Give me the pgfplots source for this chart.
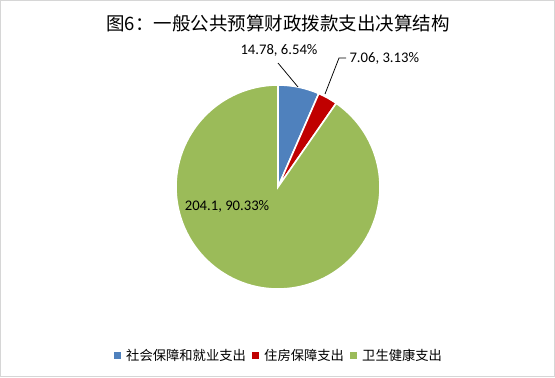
\documentclass[border=0pt]{standalone}
\usepackage{pgfplots}
\pgfplotsset{compat=1.18}
\usepackage{pgfplotstable}
\usepackage{fontspec}
\setmainfont{Carlito}
\newfontfamily\cjk{Noto Sans CJK SC}
\definecolor{cA}{HTML}{4F81BD}
\definecolor{cB}{HTML}{C00000}
\definecolor{cC}{HTML}{9BBB59}
\pgfplotstableread{
name value pct
A 14.78 6.54
B 7.06 3.13
C 204.1 90.33
}\piedata
\pgfplotstablegetelem{0}{value}\of\piedata \let\va\pgfplotsretval
\pgfplotstablegetelem{1}{value}\of\piedata \let\vb\pgfplotsretval
\pgfplotstablegetelem{2}{value}\of\piedata \let\vc\pgfplotsretval
\pgfmathsetmacro\tot{\va+\vb+\vc}
\pgfmathsetmacro\aA{90}
\pgfmathsetmacro\aB{90-360*\va/\tot}
\pgfmathsetmacro\aC{\aB-360*\vb/\tot}
\pgfmathsetmacro\aD{-270}
\begin{document}
\begin{tikzpicture}
\begin{axis}[
  x=1bp, y=1bp, xmin=0, xmax=555, ymin=0, ymax=377,
  hide axis, clip=false, disabledatascaling,
  scale only axis,
]
\addplot[draw=none] coordinates {(0,0) (555,377)};
\draw[color=black!16, line width=1bp] (axis cs:0.5,0.5) rectangle (axis cs:554.5,376.5);
% title
\node[font=\cjk\fontsize{18.5bp}{22bp}\selectfont] at (axis cs:278,354) {图6：一般公共预算财政拨款支出决算结构};
% pie
\fill[cA, draw=white, line width=1.6bp] (axis cs:278,190) -- ++(\aA:102bp) arc[start angle=\aA, end angle=\aB, radius=102bp] -- cycle;
\fill[cB, draw=white, line width=1.6bp] (axis cs:278,190) -- ++(\aB:102bp) arc[start angle=\aB, end angle=\aC, radius=102bp] -- cycle;
\fill[cC, draw=white, line width=1.6bp] (axis cs:278,190) -- ++(\aC:102bp) arc[start angle=\aC, end angle=\aD, radius=102bp] -- cycle;
% labels
\draw[black, line width=0.75bp] (axis cs:278,314) -- (axis cs:298,290);
\node[font=\fontsize{14.67bp}{17bp}\selectfont] at (axis cs:279,327) {14.78, 6.54\%};
\draw[black, line width=0.75bp] (axis cs:325,283) -- (axis cs:339,319) -- (axis cs:346,319);
\node[font=\fontsize{14.67bp}{17bp}\selectfont, anchor=west] at (axis cs:346,319) {7.06, 3.13\%};
\node[font=\fontsize{14.67bp}{17bp}\selectfont] at (axis cs:227,171) {204.1, 90.33\%};
% legend
\fill[cA] (axis cs:114,18.5) rectangle (axis cs:121,25.5);
\node[font=\cjk\fontsize{13.3bp}{16bp}\selectfont, anchor=west, inner sep=0pt] at (axis cs:126,22) {社会保障和就业支出};
\fill[cB] (axis cs:252,18.5) rectangle (axis cs:259,25.5);
\node[font=\cjk\fontsize{13.3bp}{16bp}\selectfont, anchor=west, inner sep=0pt] at (axis cs:264,22) {住房保障支出};
\fill[cC] (axis cs:350,18.5) rectangle (axis cs:357,25.5);
\node[font=\cjk\fontsize{13.3bp}{16bp}\selectfont, anchor=west, inner sep=0pt] at (axis cs:362,22) {卫生健康支出};
\end{axis}
\end{tikzpicture}
\end{document}
